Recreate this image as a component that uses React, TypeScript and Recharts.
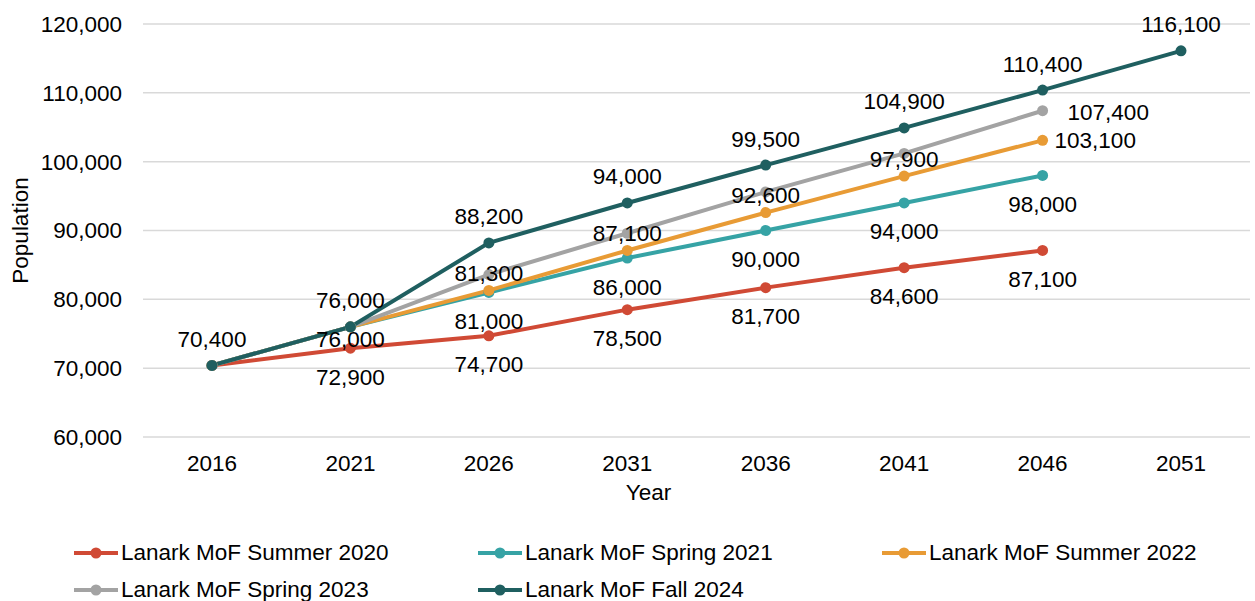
import React from 'react';
import { LineChart, Line, XAxis, YAxis, CartesianGrid, LabelList } from 'recharts';

const years = ['2016', '2021', '2026', '2031', '2036', '2041', '2046', '2051'];
const summer2020 = [70400, 72900, 74700, 78500, 81700, 84600, 87100, null];
const spring2021 = [70400, 76000, 81000, 86000, 90000, 94000, 98000, null];
const summer2022 = [70400, 76000, 81300, 87100, 92600, 97900, 103100, null];
const spring2023 = [70400, 76000, 83600, 89600, 95600, 101200, 107400, null];
const fall2024 = [70400, 76000, 88200, 94000, 99500, 104900, 110400, 116100];
const yTicks = [60000, 70000, 80000, 90000, 100000, 110000, 120000];

const FONT = '"Liberation Sans", Arial, sans-serif';
const FS = 22.5;

type SeriesCfg = {
  key: string;
  name: string;
  color: string;
  values: (number | null)[];
  shown: number[];
  place: (i: number) => { dx: number; dy: number; anchor: 'middle' | 'start' };
};

const series: SeriesCfg[] = [
  {
    key: 's2020', name: 'Lanark MoF Summer 2020', color: '#D04A35', values: summer2020,
    shown: [1, 2, 3, 4, 5, 6],
    place: () => ({ dx: 0, dy: 29, anchor: 'middle' }),
  },
  {
    key: 's2021', name: 'Lanark MoF Spring 2021', color: '#36A3A5', values: spring2021,
    shown: [1, 2, 3, 4, 5, 6],
    place: (i) => ({ dx: 0, dy: i === 1 ? 13 : 29, anchor: 'middle' }),
  },
  {
    key: 's2022', name: 'Lanark MoF Summer 2022', color: '#E89B35', values: summer2022,
    shown: [2, 3, 4, 5, 6],
    place: (i) => (i === 6 ? { dx: 12, dy: 0, anchor: 'start' } : { dx: 0, dy: -17, anchor: 'middle' }),
  },
  {
    key: 's2023', name: 'Lanark MoF Spring 2023', color: '#A3A3A3', values: spring2023,
    shown: [6],
    place: () => ({ dx: 25, dy: 2, anchor: 'start' }),
  },
  {
    key: 'f2024', name: 'Lanark MoF Fall 2024', color: '#1F5F60', values: fall2024,
    shown: [0, 1, 2, 3, 4, 5, 6, 7],
    place: () => ({ dx: 0, dy: -26, anchor: 'middle' }),
  },
];

const data = years.map((y, i) => {
  const row: Record<string, any> = { year: y };
  series.forEach((s) => {
    row[s.key] = s.values[i];
  });
  return row;
});

const fmt = (v: number) => v.toLocaleString('en-US');

const makeLabel = (s: SeriesCfg) => (props: any) => {
  const { x, y, value, index } = props;
  if (value == null || !s.shown.includes(index)) return null;
  const p = s.place(index);
  return (
    <text
      x={x + p.dx}
      y={y + p.dy}
      textAnchor={p.anchor}
      dominantBaseline="central"
      fontSize={FS}
      fontFamily={FONT}
      fill="#000"
    >
      {fmt(value)}
    </text>
  );
};

const legendCols = [73, 477, 881];

export default function App() {
  return (
    <div style={{ position: 'absolute', left: 0, top: 0, width: 1255, height: 601, background: '#fff', fontFamily: FONT }}>
      <LineChart
        width={1255}
        height={601}
        data={data}
        margin={{ top: 24, right: 5, left: 0, bottom: 94 }}
      >
        <CartesianGrid vertical={false} stroke="#D9D9D9" strokeWidth={1.5} />
        <XAxis
          dataKey="year"
          axisLine={false}
          tickLine={false}
          height={70}
          padding={{ left: 69, right: 69 }}
          tick={{ fontSize: FS, fill: '#000', fontFamily: FONT }}
          tickMargin={12}
          label={{
            content: (props: any) => {
              const vb = props.viewBox;
              return (
                <text
                  x={vb.x + vb.width / 2 - 48}
                  y={vb.y + 55}
                  textAnchor="middle"
                  dominantBaseline="central"
                  fontSize={FS}
                  fontFamily={FONT}
                  fill="#000"
                >
                  Year
                </text>
              );
            },
          }}
        />
        <YAxis
          width={143}
          domain={[60000, 120000]}
          ticks={yTicks}
          axisLine={false}
          tickLine={false}
          tickFormatter={fmt}
          tick={{ fontSize: FS, fill: '#000', fontFamily: FONT }}
          tickMargin={15}
          label={{
            content: (props: any) => {
              const vb = props.viewBox;
              const cx = vb.x + 20;
              const cy = vb.y + vb.height / 2;
              return (
                <text
                  x={cx}
                  y={cy}
                  transform={`rotate(-90 ${cx} ${cy})`}
                  textAnchor="middle"
                  dominantBaseline="central"
                  fontSize={FS}
                  fontFamily={FONT}
                  fill="#000"
                >
                  Population
                </text>
              );
            },
          }}
        />
        {series.map((s) => (
          <Line
            key={s.key}
            type="linear"
            dataKey={s.key}
            name={s.name}
            stroke={s.color}
            strokeWidth={4}
            dot={{ r: 5.5, fill: s.color, stroke: s.color, strokeWidth: 0 }}
            activeDot={false}
            isAnimationActive={false}
            connectNulls={false}
          />
        ))}
        {series.map((s) => (
          <Line
            key={s.key + '-lbl'}
            type="linear"
            dataKey={s.key}
            stroke="none"
            dot={false}
            activeDot={false}
            legendType="none"
            isAnimationActive={false}
          >
            <LabelList dataKey={s.key} content={makeLabel(s)} />
          </Line>
        ))}
      </LineChart>
      {series.map((s, i) => {
        const col = i % 3;
        const row = Math.floor(i / 3);
        const left = legendCols[col];
        const top = row === 0 ? 553 : 590;
        return (
          <div
            key={s.key + '-leg'}
            style={{ position: 'absolute', left, top: top - 14, height: 28, display: 'flex', alignItems: 'center', whiteSpace: 'nowrap' }}
          >
            <svg width={46} height={28} style={{ display: 'block' }}>
              <line x1={1} y1={14} x2={45} y2={14} stroke={s.color} strokeWidth={4} />
              <circle cx={23} cy={14} r={5.5} fill={s.color} />
            </svg>
            <span style={{ fontSize: FS, color: '#000', marginLeft: 2, fontFamily: FONT }}>{s.name}</span>
          </div>
        );
      })}
    </div>
  );
}
